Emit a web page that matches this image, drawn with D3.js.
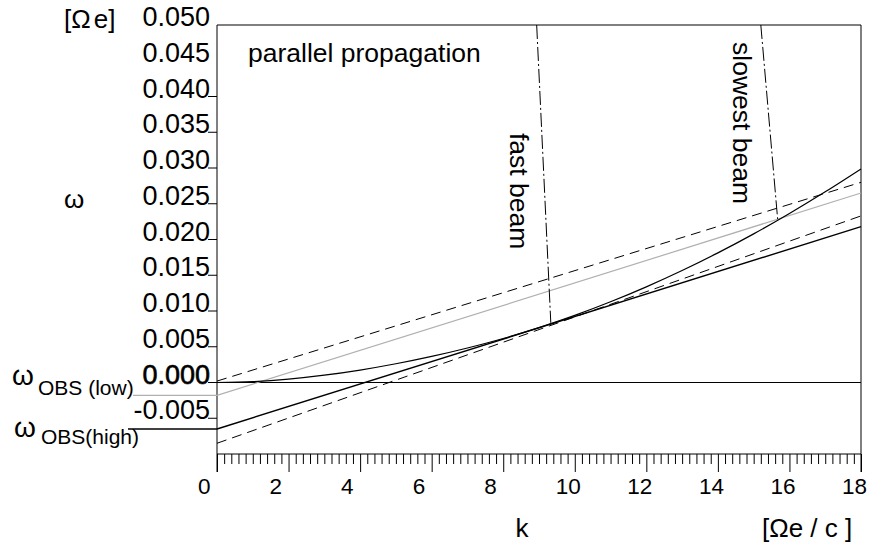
<!DOCTYPE html>
<html>
<head>
<meta charset="utf-8">
<script src="https://cdn.jsdelivr.net/npm/d3@7"></script>
<style>
  body { margin: 0; background: #fff; }
  svg { display: block; font-family: "Liberation Sans", Arial, sans-serif; }
</style>
</head>
<body>
<svg id="chart" width="871" height="544"></svg>
<script>
// axis ticks
const kTicks = [0, 2, 4, 6, 8, 10, 12, 14, 16, 18];
const omegaTicks = [0.050, 0.045, 0.040, 0.035, 0.030, 0.025, 0.020, 0.015, 0.010, 0.005, 0.000, -0.005];

// dispersion curve
const curveK = [0, 1, 2, 3, 4, 5, 6, 7, 8, 9, 10, 11, 12, 13, 14, 15, 16, 17, 18];
const curveOmega = [0, 0.00012, 0.00047, 0.00102, 0.00174, 0.00262, 0.00365, 0.00483, 0.00616, 0.00768,
  0.00939, 0.01129, 0.01338, 0.01566, 0.01813, 0.02079, 0.02364, 0.02667, 0.02987];

// straight lines (k, omega endpoints)
const tangentLine = [[0, -0.0065], [18, 0.0218]];
const grayLine = [[0, -0.0018], [18, 0.0265]];
const dashUpper = [[0, 0.0002], [18, 0.0280]];
const dashLower = [[0, -0.0085], [18, 0.0233]];
const zeroLine = [[0, 0], [18, 0]];
const fastBeam = [[8.935, 0.050], [9.33, 0.00834]];
const slowBeam = [[15.2, 0.050], [15.67, 0.02285]];

const omegaObsLow = -0.0018;
const omegaObsHigh = -0.0065;

const svg = d3.select("#chart");
const x = d3.scaleLinear().domain([0, 18]).range([217, 861]);
const y = d3.scaleLinear().domain([-0.010, 0.050]).range([454, 25]);

const line = d3.line().x(d => x(d[0])).y(d => y(d[1]));

// frame
svg.append("path")
  .attr("d", `M${x(0)},${y(-0.01) + 18}V${y(0.05)}H${x(18)}V${y(-0.01) + 18}`)
  .attr("fill", "none").attr("stroke", "#000").attr("stroke-width", 1);

// bottom axis with minor ticks
const xAxis = d3.axisBottom(x).tickValues(d3.range(0, 18.01, 0.2)).tickSize(10).tickFormat("");
const ax = svg.append("g").attr("transform", `translate(0,${y(-0.01)})`).call(xAxis);
ax.select(".domain").attr("d", `M${x(0)},0H${x(18)}`);
ax.selectAll(".tick line")
  .attr("y2", d => (Math.abs(d / 2 - Math.round(d / 2)) < 1e-6 ? 18 : 10))
  .attr("stroke-width", 1);

// x tick labels (left-aligned, a bit before the tick)
svg.selectAll(".klab").data(kTicks).enter().append("text")
  .attr("class", "klab")
  .attr("x", d => x(d) - 19)
  .attr("y", 494)
  .attr("font-size", 22.5)
  .text(d => d);

// y tick marks and labels
svg.selectAll(".ytick").data(omegaTicks.filter(d => d <= 0.0401)).enter().append("line")
  .attr("x1", 208).attr("x2", x(0))
  .attr("y1", d => y(d)).attr("y2", d => y(d))
  .attr("stroke", "#000").attr("stroke-width", 1);

svg.selectAll(".ylab").data(omegaTicks).enter().append("text")
  .attr("x", 210)
  .attr("y", d => y(d) + 1)
  .attr("text-anchor", "end")
  .attr("font-size", 27)
  .attr("stroke", d => (d === 0 ? "#000" : "none"))
  .attr("stroke-width", 0.6)
  .text(d => d3.format(".3f")(d).replace("−", "-"));

// curves
svg.append("path").datum(zeroLine).attr("d", line)
  .attr("fill", "none").attr("stroke", "#000").attr("stroke-width", 1);

svg.append("path").datum(grayLine).attr("d", line)
  .attr("fill", "none").attr("stroke", "#b0b0b0").attr("stroke-width", 1.2);

svg.append("path").datum(dashUpper).attr("d", line)
  .attr("fill", "none").attr("stroke", "#000").attr("stroke-width", 1)
  .attr("stroke-dasharray", "10,6");

svg.append("path").datum(dashLower).attr("d", line)
  .attr("fill", "none").attr("stroke", "#000").attr("stroke-width", 1)
  .attr("stroke-dasharray", "10,6");

svg.append("path").datum(tangentLine).attr("d", line)
  .attr("fill", "none").attr("stroke", "#000").attr("stroke-width", 1.4);

svg.append("path").datum(curveK.map((k, i) => [k, curveOmega[i]]))
  .attr("d", line.curve(d3.curveCatmullRom))
  .attr("fill", "none").attr("stroke", "#000").attr("stroke-width", 1.2);
line.curve(d3.curveLinear);

[fastBeam, slowBeam].forEach(b => {
  svg.append("path").datum(b).attr("d", line)
    .attr("fill", "none").attr("stroke", "#000").attr("stroke-width", 1)
    .attr("stroke-dasharray", "14,3,2,3");
});

// omega_OBS leaders to the left of the axis
svg.append("line").attr("x1", 133).attr("x2", x(0))
  .attr("y1", y(omegaObsLow)).attr("y2", y(omegaObsLow))
  .attr("stroke", "#b0b0b0").attr("stroke-width", 1.2);
svg.append("line").attr("x1", 128).attr("x2", x(0))
  .attr("y1", y(omegaObsHigh)).attr("y2", y(omegaObsHigh))
  .attr("stroke", "#000").attr("stroke-width", 1.4);

// labels
const t1 = svg.append("text").attr("x", 12).attr("y", 385).attr("font-size", 28);
t1.append("tspan").text("ω");
t1.append("tspan").attr("x", 38).attr("y", 395).attr("font-size", 21).text("OBS (low)");

const t2 = svg.append("text").attr("x", 14).attr("y", 437).attr("font-size", 28);
t2.append("tspan").text("ω");
t2.append("tspan").attr("x", 41).attr("y", 444).attr("font-size", 21).text("OBS(high)");

const unitY = svg.append("text").attr("x", 64).attr("y", 28).attr("font-size", 26);
unitY.append("tspan").text("[Ω");
unitY.append("tspan").attr("dx", 3).text("e]");
svg.append("text").attr("x", 64).attr("y", 208).attr("font-size", 26).text("ω");

svg.append("text").attr("x", 248).attr("y", 62).attr("font-size", 26.5).text("parallel propagation");

svg.append("text").attr("transform", "translate(510,133) rotate(90)")
  .attr("font-size", 26.5).text("fast beam");
svg.append("text").attr("transform", "translate(733,42) rotate(90)")
  .attr("font-size", 26.5).text("slowest beam");

svg.append("text").attr("x", 522).attr("y", 537).attr("text-anchor", "middle")
  .attr("font-size", 26).text("k");
svg.append("text").attr("x", 762).attr("y", 537).attr("font-size", 26).text("[Ωe / c ]");
</script>
</body>
</html>
